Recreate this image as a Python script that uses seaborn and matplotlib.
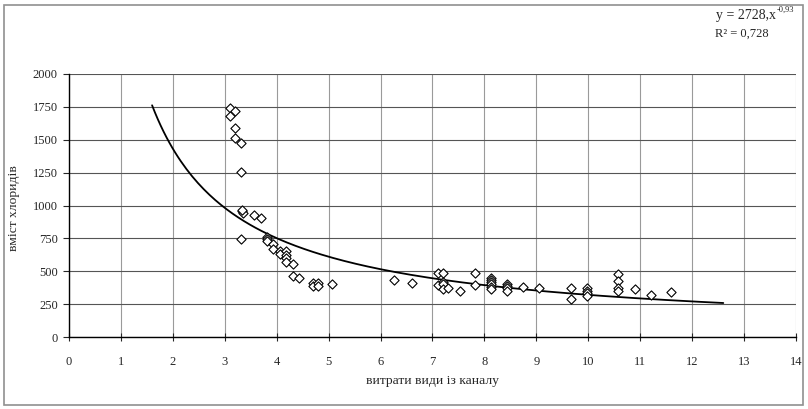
import numpy as np
import pandas as pd
import matplotlib
matplotlib.use("Agg")
import matplotlib.pyplot as plt
import seaborn as sns
from matplotlib.patches import Rectangle

# витрати води (x) та вміст хлоридів (y)
vytraty = [3.10, 3.20, 3.10, 3.20, 3.20, 3.31, 3.31, 3.33, 3.36, 3.34, 3.31,
           3.57, 3.70, 3.81, 3.81, 3.81, 3.93, 3.93, 4.06, 4.06,
           4.18, 4.18, 4.18, 4.18, 4.32, 4.32, 4.43, 4.69, 4.69, 4.80, 4.80, 5.06,
           6.25, 6.60, 7.11, 7.21, 7.11, 7.21, 7.21, 7.21, 7.30, 7.52, 7.82, 7.82,
           8.12, 8.12, 8.12, 8.12, 8.12, 8.12, 8.43, 8.43, 8.43, 8.43, 8.75, 9.06,
           9.66, 9.66, 9.97, 9.97, 9.97, 9.97, 10.58, 10.58, 10.58, 10.58,
           10.90, 11.20, 11.60]
khlorydy = [1738, 1717, 1682, 1593, 1510, 1472, 1256, 957, 945, 965, 748,
            927, 907, 763, 742, 730, 710, 667, 654, 629,
            654, 621, 604, 570, 553, 464, 447, 409, 389, 409, 389, 402,
            432, 414, 490, 490, 394, 419, 402, 364, 369, 351, 490, 394,
            452, 434, 419, 402, 384, 364, 402, 389, 369, 351, 384, 369,
            369, 288, 369, 351, 333, 313, 477, 427, 369, 351,
            364, 318, 346]

# степенева лінія тренду y = a * x^b
trend_a = 2728
trend_b = -0.93
trend_x0, trend_x1 = 1.6, 12.6
trend_r2 = "0,728"

df = pd.DataFrame({"x": vytraty, "y": khlorydy})

sns.set_style("white")
plt.rcParams["font.family"] = ["Liberation Serif", "DejaVu Serif"]

fig = plt.figure(figsize=(8.08, 4.09), dpi=100)
ax = fig.add_axes([69 / 808, 1 - 337 / 409, 727 / 808, 263 / 409])

tx = np.linspace(trend_x0, trend_x1, 200)
sns.lineplot(x=tx, y=trend_a * tx ** trend_b, ax=ax, color="black", lw=1.3, zorder=3)
sns.scatterplot(data=df, x="x", y="y", ax=ax, marker="D", s=22,
                facecolor="white", edgecolor="black", linewidth=0.8, zorder=4)

ax.set_xlim(0, 14)
ax.set_ylim(0, 2000)
ax.set_xticks(range(0, 15))
ax.set_yticks(range(0, 2001, 250))
ax.grid(axis="x", color="#9a9a9a", lw=0.8)
ax.grid(axis="y", color="#555555", lw=0.8)
ax.set_axisbelow(True)
for s in ["top", "right"]:
    ax.spines[s].set_visible(False)
for s in ["left", "bottom"]:
    ax.spines[s].set_color("black")
    ax.spines[s].set_linewidth(1.0)
ax.tick_params(axis="y", direction="out", length=4, width=0.8, pad=4, labelsize=9, left=True)
ax.tick_params(axis="x", direction="inout", length=6, width=0.8, pad=11, labelsize=9, bottom=True)

ax.set_xlabel("витрати види із каналу", fontsize=9.7)
ax.set_ylabel("вміст хлоридів", fontsize=9.7)
ax.xaxis.set_label_coords(0.5, -0.145)
ax.yaxis.set_label_coords(-0.067, 0.49)

# рівняння тренду з верхнім індексом
fig.text(776 / 808, 1 - 16 / 409, "y = 2728,x", ha="right", va="center", fontsize=10)
fig.text(777 / 808, 1 - 10 / 409, "-0,93", ha="left", va="center", fontsize=6)
fig.text(742 / 808, 1 - 34 / 409, "R² = " + trend_r2, ha="center", va="center", fontsize=9)

fig.patches.append(Rectangle((4 / 808, 4 / 409), 799 / 808, 400 / 409, transform=fig.transFigure,
                             fill=False, edgecolor="#909090", lw=1.2))

fig.savefig("out.png", dpi=100)
